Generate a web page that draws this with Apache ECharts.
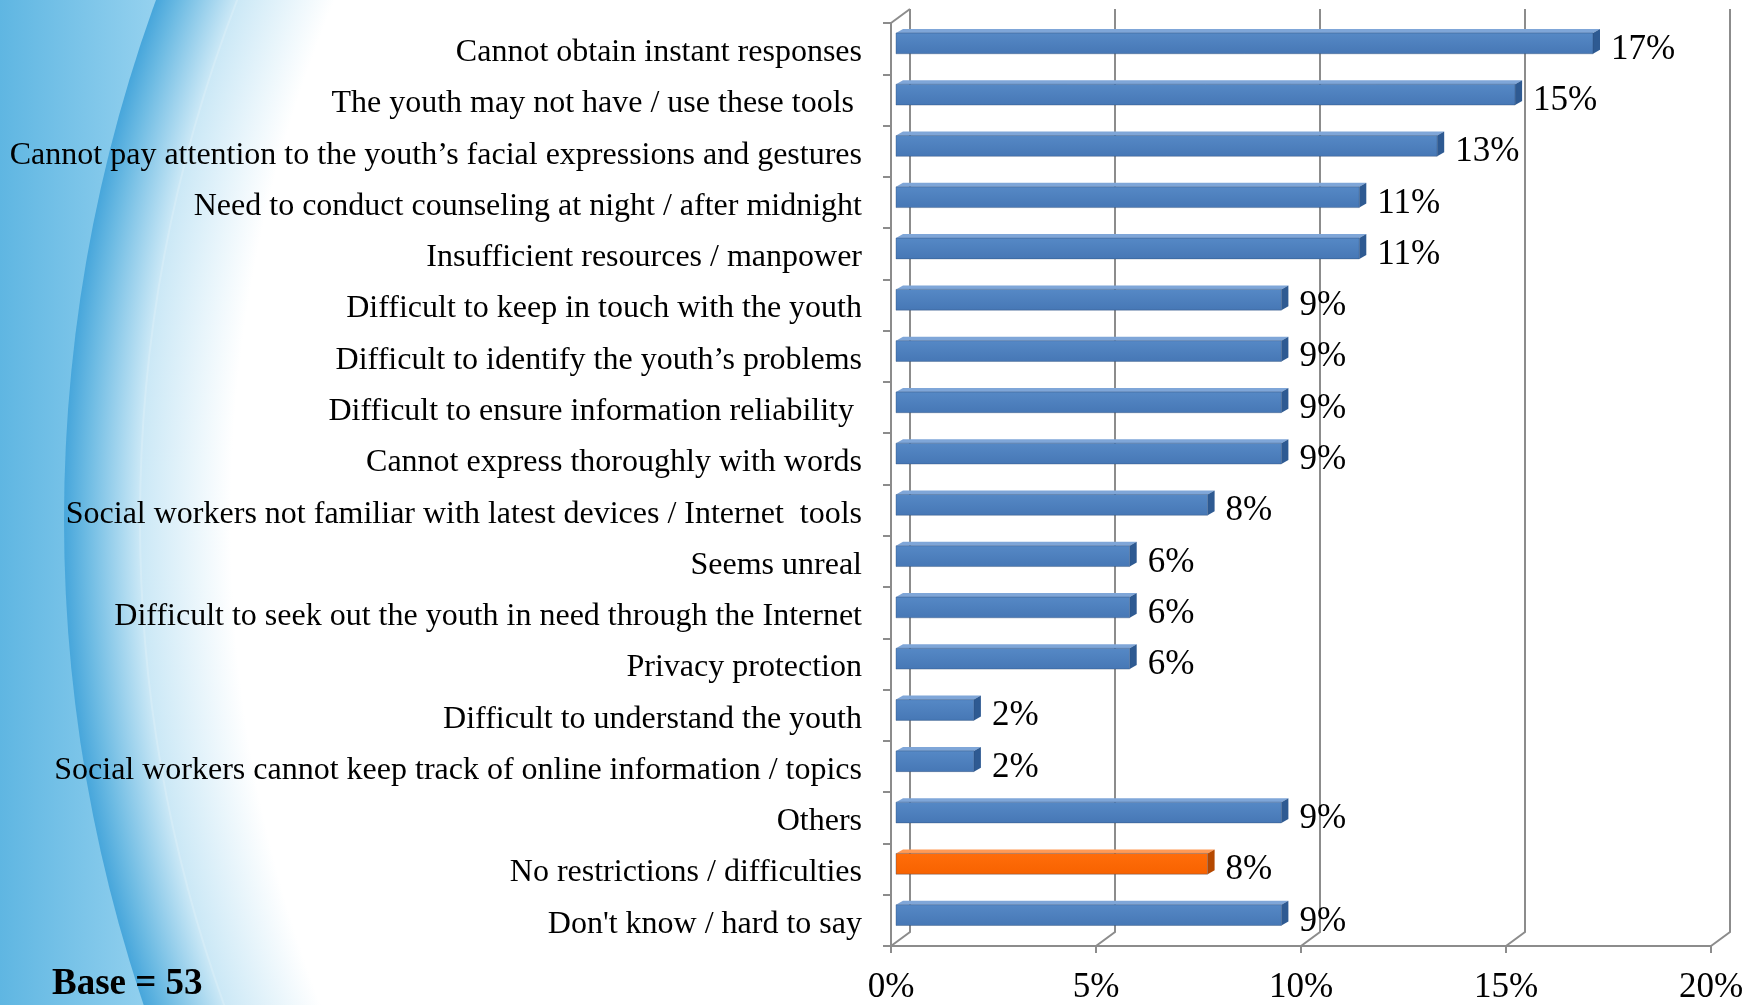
<!DOCTYPE html>
<html>
<head>
<meta charset="utf-8">
<title>Difficulties</title>
<script src="https://cdn.jsdelivr.net/npm/echarts@6/dist/echarts.min.js"></script>
<style>
  html, body { margin: 0; padding: 0; background: #fff; }
  #chart { width: 1758px; height: 1005px; }
</style>
</head>
<body>
<div id="chart"></div>
<script>
// categories, top to bottom
var categories = [
  'Cannot obtain instant responses',
  'The youth may not have / use these tools ',
  'Cannot pay attention to the youth\u2019s facial expressions and gestures',
  'Need to conduct counseling at night / after midnight',
  'Insufficient resources / manpower',
  'Difficult to keep in touch with the youth',
  'Difficult to identify the youth\u2019s problems',
  'Difficult to ensure information reliability ',
  'Cannot express thoroughly with words',
  'Social workers not familiar with latest devices / Internet  tools',
  'Seems unreal',
  'Difficult to seek out the youth in need through the Internet',
  'Privacy protection',
  'Difficult to understand the youth',
  'Social workers cannot keep track of online information / topics',
  'Others',
  'No restrictions / difficulties',
  'Don\'t know / hard to say'
];
// percentages (base = 53)
var values = [17.0, 15.1, 13.2, 11.3, 11.3, 9.4, 9.4, 9.4, 9.4, 7.6, 5.7, 5.7, 5.7, 1.9, 1.9, 9.4, 7.6, 9.4];
var xTicks = [0, 5, 10, 15, 20];
var baseText = 'Base = 53';
var highlightCat = 'No restrictions / difficulties';

var SERIF = '"Liberation Serif", "Times New Roman", serif';
var GRID_COLOR = '#8c8c8c';
var WALL_DX = 19, WALL_DY = 14;   // 3d back wall offset
var BAR_DX = 7, BAR_DY = 4;       // bar depth

var blue = { front: new echarts.graphic.LinearGradient(0, 0, 0, 1, [
               { offset: 0, color: '#5689c6' }, { offset: 1, color: '#4677b5' }]),
             top: '#7fa6d8', side: '#2e5a92' };
var orange = { front: new echarts.graphic.LinearGradient(0, 0, 0, 1, [
               { offset: 0, color: '#ff6d0a' }, { offset: 1, color: '#f76200' }]),
               top: '#ff9a55', side: '#b54800' };

var chart = echarts.init(document.getElementById('chart'));

var barData = values.map(function (v, i) { return [v, i]; });
var wallData = xTicks.map(function (v) { return [v, 0]; });

chart.setOption({
  animation: false,
  graphic: [
    // blue swoosh on the left
    {
      type: 'rect', z: -100, silent: true,
      shape: { x: 0, y: 0, width: 420, height: 1005 },
      style: { fill: new echarts.graphic.LinearGradient(0, 0, 170, 0, [
        { offset: 0, color: '#5fb6e2' },
        { offset: 1, color: '#9ad4f0' }], true) }
    },
    {
      type: 'circle', z: -99, silent: true,
      shape: { cx: 1580, cy: 520, r: 1516 },
      style: { fill: new echarts.graphic.RadialGradient(0.5, 0.5, 0.5, [
        { offset: 0, color: '#ffffff' },
        { offset: 0.89, color: '#ffffff' },
        { offset: 0.95, color: '#cbe8f6' },
        { offset: 0.985, color: '#6dbbe3' },
        { offset: 1, color: '#47a6db' }]) }
    },
    {
      type: 'circle', z: -98, silent: true,
      shape: { cx: 1580, cy: 520, r: 1440 },
      style: { fill: null, stroke: 'rgba(255,255,255,0.18)', lineWidth: 2 }
    },
    {
      type: 'text', left: 52, top: 966, z: 10,
      style: { text: baseText, font: 'bold 37px ' + SERIF, fill: '#000' }
    }
  ],
  grid: { left: 891, top: 23, width: 820, height: 924 },
  xAxis: {
    type: 'value',
    min: 0, max: 20, interval: 5,
    axisLine: { show: true, lineStyle: { color: GRID_COLOR, width: 2 } },
    axisTick: { show: true, length: 7, lineStyle: { color: GRID_COLOR, width: 2 } },
    splitLine: { show: false },
    axisLabel: {
      formatter: '{value}%', margin: 24,
      fontFamily: SERIF, fontSize: 35, color: '#000'
    }
  },
  yAxis: {
    type: 'category',
    inverse: true,
    data: categories,
    axisLine: { show: true, lineStyle: { color: GRID_COLOR, width: 2 } },
    axisTick: { show: true, length: 8, lineStyle: { color: GRID_COLOR, width: 2 } },
    axisLabel: {
      margin: 29,
      formatter: function (v) { return '{l|' + v + '}'; },
      rich: { l: { fontFamily: SERIF, fontSize: 32, color: '#000', padding: [8, 0, 0, 0] } }
    }
  },
  series: [
    {
      // back wall + floor of the 3d plot
      type: 'custom',
      silent: true,
      z: 1,
      data: wallData,
      renderItem: function (params, api) {
        var cs = params.coordSys;
        var x = api.coord([api.value(0), 0])[0];
        var top = cs.y, bottom = cs.y + cs.height;
        var ls = { stroke: GRID_COLOR, lineWidth: 2, fill: null };
        var kids = [
          { type: 'polyline', shape: { points: [[x + WALL_DX, top - WALL_DY], [x + WALL_DX, bottom - WALL_DY], [x, bottom]] }, style: ls }
        ];
        if (api.value(0) === 0) {
          kids.push({ type: 'line', shape: { x1: x, y1: top, x2: x + WALL_DX, y2: top - WALL_DY }, style: ls });
        }
        return { type: 'group', children: kids };
      }
    },
    {
      type: 'custom',
      z: 3,
      data: barData,
      renderItem: function (params, api) {
        var v = api.value(0), idx = api.value(1);
        var band = api.size([0, 1])[1];
        var start = api.coord([0, idx]);
        var end = api.coord([v, idx]);
        var cy = start[1];
        var x0 = start[0] + 5, x1 = end[0] + 5;
        var ft = cy - band * 0.305, fb = cy + band * 0.1;
        var col = categories[idx] === highlightCat ? orange : blue;
        return {
          type: 'group',
          children: [
            { type: 'polygon', shape: { points: [[x0, ft], [x0 + BAR_DX, ft - BAR_DY], [x1 + BAR_DX, ft - BAR_DY], [x1, ft]] },
              style: { fill: col.top } },
            { type: 'polygon', shape: { points: [[x1, ft], [x1 + BAR_DX, ft - BAR_DY], [x1 + BAR_DX, fb - BAR_DY], [x1, fb]] },
              style: { fill: col.side } },
            { type: 'rect', shape: { x: x0, y: ft, width: x1 - x0, height: fb - ft },
              style: { fill: col.front, stroke: 'rgba(40,70,110,0.35)', lineWidth: 1 } },
            { type: 'text',
              style: { text: Math.round(v) + '%', x: x1 + BAR_DX + 11, y: cy + 1,
                       font: '35px ' + SERIF, fill: '#000',
                       align: 'left', verticalAlign: 'middle',
                       textAlign: 'left', textVerticalAlign: 'middle' } }
          ]
        };
      }
    }
  ]
});

window.addEventListener('resize', function () { chart.resize(); });
</script>
</body>
</html>
